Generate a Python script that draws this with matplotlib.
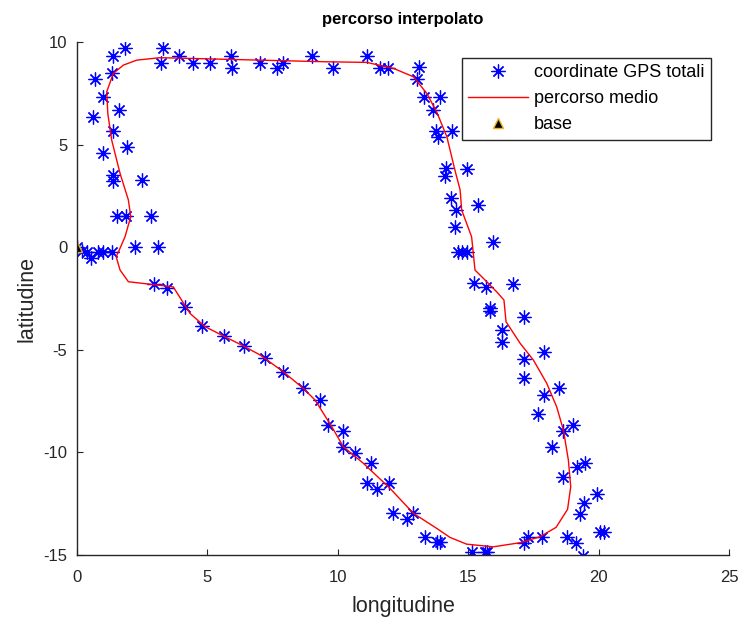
import matplotlib
matplotlib.use('Agg')
import matplotlib.pyplot as plt

plt.rcParams['font.family'] = ['Liberation Sans', 'DejaVu Sans']
plt.rcParams['axes.unicode_minus'] = False

# GPS fixes collected on all laps (longitude, latitude)
gps_lon = [0.0, 0.2, 0.37, 0.52, 0.82, 1.0, 1.33,
           0.69, 0.98, 0.63, 1.62, 1.33, 1.39, 1.84, 1.39, 0.98, 1.93, 1.39, 1.39, 2.48,
           1.52, 1.88, 2.83, 2.22, 3.12,
           3.31, 3.22, 3.92, 4.46, 5.10, 5.89, 5.93, 7.02, 7.68, 7.89, 9.0, 9.80,
           11.11, 11.62, 11.94, 13.13, 13.02, 13.3, 13.92, 13.66, 13.77, 13.86, 14.37,
           14.15, 14.11, 14.97, 14.33, 14.53, 15.39, 14.49, 15.96, 14.62, 14.75, 14.97,
           15.22, 15.68, 16.71, 15.84, 15.84, 17.15, 16.28, 16.28, 17.15, 17.91, 17.15,
           17.91, 18.48, 17.69, 18.65, 19.0, 18.2, 19.16, 19.48, 18.65, 19.93, 19.45,
           19.29, 20.05, 20.2, 18.78, 19.13, 19.39, 17.82, 17.3, 17.14,
           15.64, 15.13, 15.73, 13.82, 13.34, 13.92, 12.9, 12.67,
           2.95, 3.46, 4.14, 4.78, 5.64, 6.4, 7.21, 7.89, 8.68, 9.32, 9.64, 10.19,
           10.19, 10.66, 11.26, 11.11, 11.51, 11.97, 12.1]
gps_lat = [0.0, -0.2, -0.22, -0.54, -0.22, -0.22, -0.22,
           8.18, 7.33, 6.33, 6.69, 8.47, 9.32, 9.69, 5.68, 4.61, 4.90, 3.52, 3.24, 3.27,
           1.52, 1.52, 1.52, 0.0, 0.0,
           9.69, 8.99, 9.32, 8.99, 8.99, 9.32, 8.72, 8.99, 8.72, 8.99, 9.32, 8.72,
           9.32, 8.72, 8.72, 8.77, 8.18, 7.33, 7.33, 6.69, 5.68, 5.36, 5.68,
           3.84, 3.47, 3.80, 2.38, 1.81, 2.06, 1.0, 0.27, -0.22, -0.22, -0.22,
           -1.76, -1.95, -1.79, -2.98, -3.09, -3.39, -4.04, -4.6, -5.45, -5.12, -6.36,
           -7.2, -6.88, -8.14, -8.94, -8.67, -9.75, -10.73, -10.5, -11.22, -12.03, -12.45,
           -13.0, -13.86, -13.86, -14.14, -14.4, -15.05, -14.14, -14.14, -14.43,
           -14.84, -14.84, -14.84, -14.35, -14.14, -14.35, -12.94, -13.26,
           -1.79, -2.0, -2.9, -3.84, -4.33, -4.81, -5.42, -6.07, -6.88, -7.45, -8.66, -8.94,
           -9.72, -10.01, -10.5, -11.48, -11.8, -11.48, -12.97]

# averaged route
route_lon = [1.59, 1.84, 2.06, 1.97, 1.65, 1.33, 1.18, 1.14, 1.39, 1.78, 2.29, 3.18,
             5.74, 9.57, 11.11, 12.13, 12.9, 13.41, 13.79, 14.18, 14.49, 14.69, 14.75,
             15.13, 15.17, 15.26, 15.71, 16.09, 16.37, 16.45, 16.99, 17.5, 18.01, 18.39,
             18.65, 18.84, 18.93, 18.81, 18.37, 17.75, 16.99, 15.96, 14.94, 14.3, 13.79,
             12.9, 12.0, 10.98, 10.21, 9.77, 9.13, 8.68, 7.91, 7.02, 6.38, 5.67, 4.91,
             4.33, 3.69, 1.97, 1.65, 1.5, 1.59]
route_lat = [-0.22, 0.51, 1.49, 2.3, 3.6, 5.22, 6.52, 7.58, 8.47, 8.88, 9.12, 9.24,
             9.16, 9.04, 9.01, 8.72, 8.31, 7.5, 6.6, 5.39, 3.76, 2.79, 1.81,
             0.51, 0.02, -1.11, -1.68, -2.17, -2.57, -3.63, -4.68, -5.5, -6.63, -7.77,
             -8.91, -10.37, -11.67, -12.77, -13.65, -14.11, -14.4, -14.6, -14.47, -14.14, -13.7,
             -12.97, -11.75, -10.53, -9.72, -8.75, -7.45, -6.88, -6.07, -5.25, -4.81, -4.36, -3.87,
             -3.22, -1.93, -1.68, -1.11, -0.46, -0.22]

base_lon = [0.0]
base_lat = [0.0]

fig = plt.figure(figsize=(7.42, 6.18), dpi=100)
ax = fig.add_axes([0.1038, 0.1019, 0.8787, 0.830])

ax.plot(gps_lon[:7], gps_lat[:7], color='blue', linewidth=1.0)
ax.plot(gps_lon, gps_lat, linestyle='none', marker=(8, 2, 0), markersize=10,
        markeredgewidth=0.9, color='blue', label='coordinate GPS totali')
ax.plot(route_lon, route_lat, color='red', linewidth=1.0, label='percorso medio')
ax.plot(base_lon, base_lat, linestyle='none', marker='^', markersize=7,
        markerfacecolor='black', markeredgecolor='#EDB120', markeredgewidth=1.0,
        label='base')

ax.set_xlim(0, 25)
ax.set_ylim(-15, 10)
ax.set_xticks([0, 5, 10, 15, 20, 25])
ax.set_yticks([-15, -10, -5, 0, 5, 10])
ax.spines['top'].set_visible(False)
ax.spines['right'].set_visible(False)
for s in ('left', 'bottom'):
    ax.spines[s].set_color('#262626')
    ax.spines[s].set_linewidth(1.0)
ax.tick_params(direction='in', length=4, colors='#262626', labelsize=12)
ax.tick_params(axis='x', pad=11)
ax.tick_params(axis='y', pad=7)

ax.set_title('percorso interpolato', fontsize=12, fontweight='bold', pad=13)
ax.set_xlabel('longitudine', fontsize=15.5, color='#262626', labelpad=8)
ax.set_ylabel('latitudine', fontsize=15.5, color='#262626', labelpad=4)

leg = ax.legend(loc='upper right', bbox_to_anchor=(0.972, 0.969), fontsize=13,
                fancybox=False, edgecolor='#262626', framealpha=1,
                borderaxespad=0, handlelength=3.3, handletextpad=0.33,
                borderpad=0.35, labelspacing=0.5)
leg.get_frame().set_linewidth(1.0)

fig.savefig('out.png', dpi=100)
